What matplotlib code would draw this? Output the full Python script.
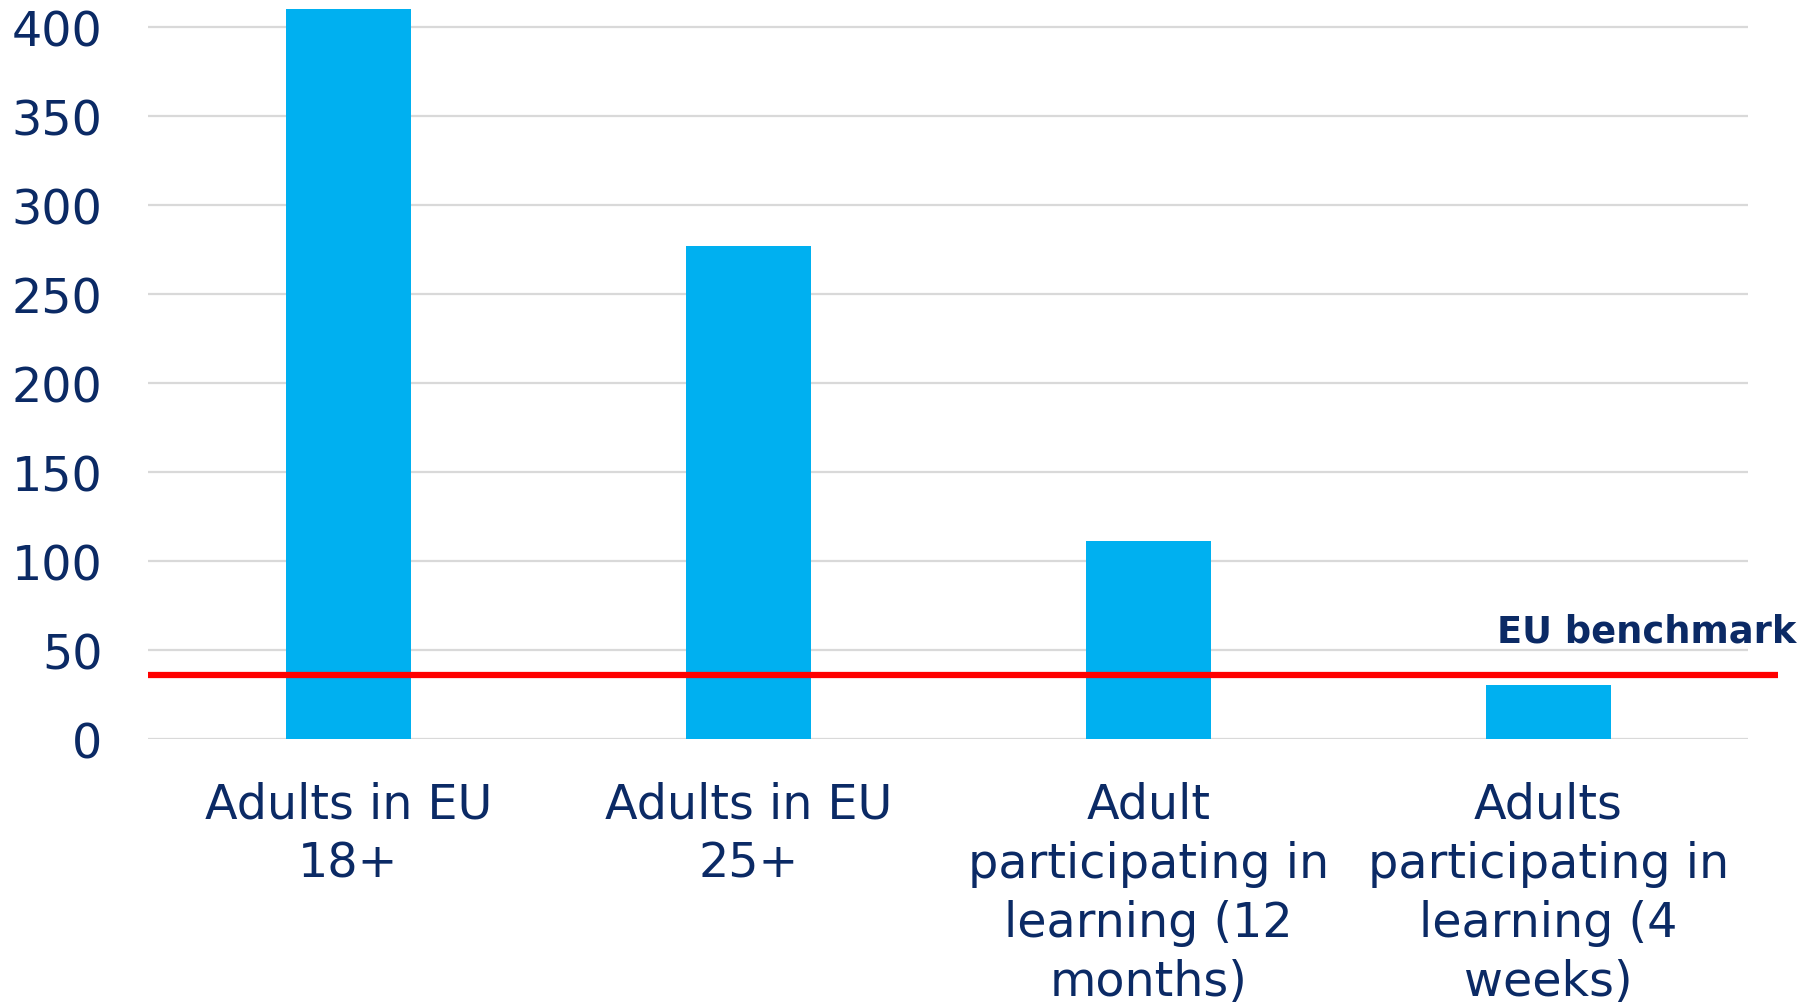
import matplotlib
matplotlib.use("Agg")
import matplotlib.pyplot as plt
import numpy as np

# values
categories = ["Adults in EU\n18+", "Adults in EU\n25+",
              "Adult\nparticipating in\nlearning (12\nmonths)",
              "Adults\nparticipating in\nlearning (4\nweeks)"]
values = [410, 277, 111, 30]
benchmark = 36
yticks = [0, 50, 100, 150, 200, 250, 300, 350, 400]

navy = "#0b2a65"
blue = "#00b0f0"

fig = plt.figure(figsize=(18.18, 10.04), dpi=100)
ax = fig.add_axes([0.0816, 0.2632, 0.8801, 0.7357])

x = np.arange(len(categories))
ax.bar(x, values, width=0.313, color=blue, zorder=2)

# benchmark line runs a bit past the plot area on the right
ax.plot([-0.5, 3.575], [benchmark, benchmark], color="#ff0000", lw=4.5,
        solid_capstyle="butt", clip_on=False, zorder=3)
ax.text(3.619, 60.5, "EU benchmark", ha="right", va="center", fontsize=26.5,
        fontweight="bold", color=navy, clip_on=False)

ax.set_xlim(-0.5, 3.5)
ax.set_ylim(0, 415)
ax.set_yticks(yticks)
ax.set_xticks(x)
ax.set_xticklabels(categories, fontsize=34.3, color=navy, linespacing=1.33, va="top")
ax.tick_params(axis="y", labelsize=34.3, labelcolor=navy, length=0, pad=33)
ax.tick_params(axis="x", length=0, pad=30)

ax.grid(axis="y", color="#d9d9d9", lw=1.6, zorder=0)
ax.set_axisbelow(True)
for s in ax.spines.values():
    s.set_visible(False)

fig.savefig("out.png", dpi=100)
